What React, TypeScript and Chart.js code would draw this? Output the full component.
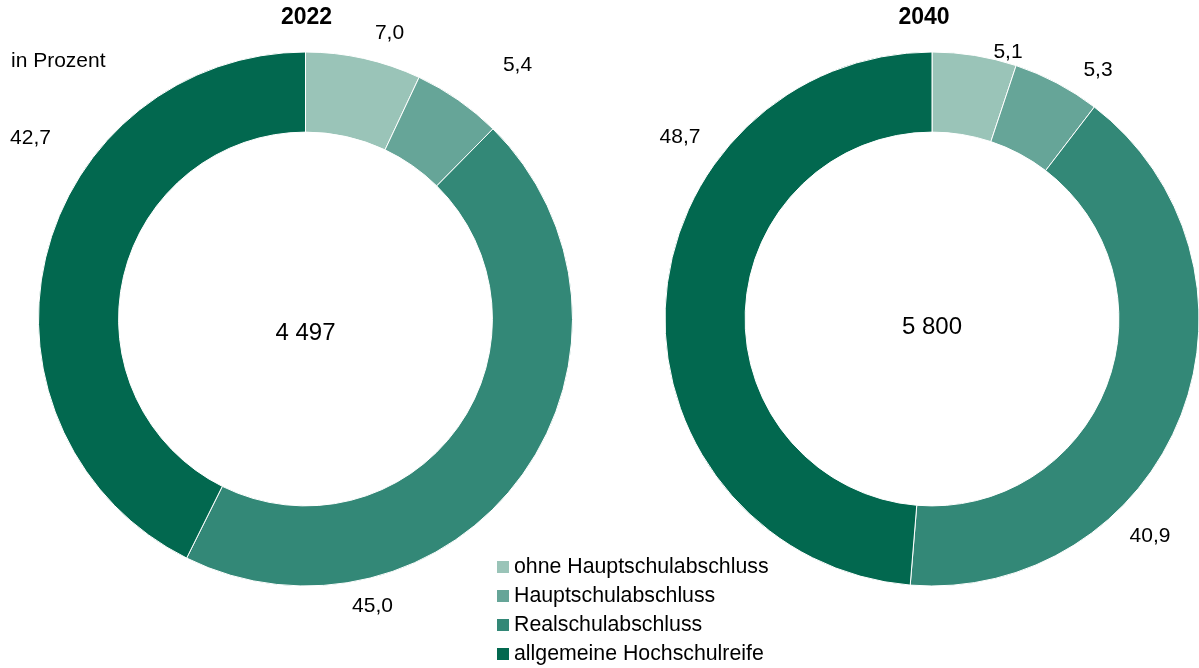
import React, { useEffect, useRef } from "react";
import { Chart, registerables } from "chart.js";

Chart.register(...registerables);

const CATEGORIES = [
  "ohne Hauptschulabschluss",
  "Hauptschulabschluss",
  "Realschulabschluss",
  "allgemeine Hochschulreife",
];
const VALUES_2022 = [7.0, 5.4, 45.0, 42.7];
const VALUES_2040 = [5.1, 5.3, 40.9, 48.7];
const YEARS = ["2022", "2040"];
const TOTALS = ["4 497", "5 800"];
const COLORS = ["#9ac4b8", "#66a598", "#338877", "#02684f"];

// label placement (offsets from chart centre, px)
const LABEL_OFFSETS_2022 = [
  [84, -286],
  [212, -254],
  [67, 287],
  [-275, -181],
];
const LABEL_OFFSETS_2040 = [
  [76, -267],
  [166, -249],
  [218, 217],
  [-252, -182],
];

const FONT = "'Liberation Sans', Arial, sans-serif";
const fmt = (v: number) => v.toFixed(1).replace(".", ",");

type Cfg = {
  values: number[];
  year: string;
  total: string;
  offsets: number[][];
  padding: { left: number; right: number; top: number; bottom: number };
  titleDx: number;
  totalDy: number;
  unit?: boolean;
};

function Donut({ cfg, width }: { cfg: Cfg; width: number }) {
  const ref = useRef<HTMLCanvasElement | null>(null);
  useEffect(() => {
    if (!ref.current) return;
    const textPlugin = {
      id: "texts",
      afterDraw(chart: any) {
        const ctx = chart.ctx;
        const a = chart.chartArea;
        const cx = (a.left + a.right) / 2;
        const cy = (a.top + a.bottom) / 2;
        ctx.save();
        ctx.fillStyle = "#000";
        ctx.textAlign = "center";
        ctx.textBaseline = "middle";
        ctx.font = `bold 23px ${FONT}`;
        ctx.fillText(cfg.year, cx + cfg.titleDx, 18);
        ctx.font = `24px ${FONT}`;
        ctx.fillText(cfg.total, cx, cy + cfg.totalDy);
        ctx.font = `21px ${FONT}`;
        cfg.values.forEach((v, i) => {
          const [dx, dy] = cfg.offsets[i];
          ctx.fillText(fmt(v), cx + dx, cy + dy);
        });
        if (cfg.unit) {
          ctx.textAlign = "left";
          ctx.font = `21px ${FONT}`;
          ctx.fillText("in Prozent", 11, 61);
        }
        ctx.restore();
      },
    };
    const chart = new Chart(ref.current, {
      type: "doughnut",
      data: {
        labels: CATEGORIES,
        datasets: [
          {
            data: cfg.values,
            backgroundColor: COLORS,
            borderColor: "#ffffff",
            borderWidth: 1,
          },
        ],
      },
      options: {
        responsive: false,
        animation: false,
        devicePixelRatio: 1,
        cutout: "70%",
        layout: { padding: cfg.padding },
        plugins: {
          legend: { display: false },
          tooltip: { enabled: false },
          title: { display: false },
        },
      },
      plugins: [textPlugin],
    });
    return () => chart.destroy();
  }, []);
  return <canvas ref={ref} width={width} height={668} style={{ display: "block", width, height: 668 }} />;
}

export default function App() {
  const left: Cfg = {
    values: VALUES_2022,
    year: YEARS[0],
    total: TOTALS[0],
    offsets: LABEL_OFFSETS_2022,
    padding: { left: 38, right: 27, top: 51.5, bottom: 81.5 },
    titleDx: 1,
    totalDy: 14,
    unit: true,
  };
  const right: Cfg = {
    values: VALUES_2040,
    year: YEARS[1],
    total: TOTALS[1],
    offsets: LABEL_OFFSETS_2040,
    padding: { left: 65.5, right: 0.5, top: 51.5, bottom: 81.5 },
    titleDx: -8,
    totalDy: 8,
  };
  return (
    <div
      style={{
        position: "fixed",
        left: 0,
        top: 0,
        width: 1199,
        height: 668,
        overflow: "hidden",
        background: "#fff",
      }}
    >
      <div style={{ position: "absolute", left: 0, top: 0 }}>
        <Donut cfg={left} width={600} />
      </div>
      <div style={{ position: "absolute", left: 599, top: 0 }}>
        <Donut cfg={right} width={601} />
      </div>
      <div style={{ position: "absolute", left: 497, top: 552 }}>
        {CATEGORIES.map((c, i) => (
          <div
            key={c}
            style={{
              display: "flex",
              alignItems: "center",
              height: 29,
              fontFamily: FONT,
              fontSize: 21.3,
              color: "#000",
              whiteSpace: "nowrap",
            }}
          >
            <span
              style={{
                display: "inline-block",
                width: 12,
                height: 12,
                background: COLORS[i],
                marginRight: 5,
              }}
            />
            {c}
          </div>
        ))}
      </div>
    </div>
  );
}
